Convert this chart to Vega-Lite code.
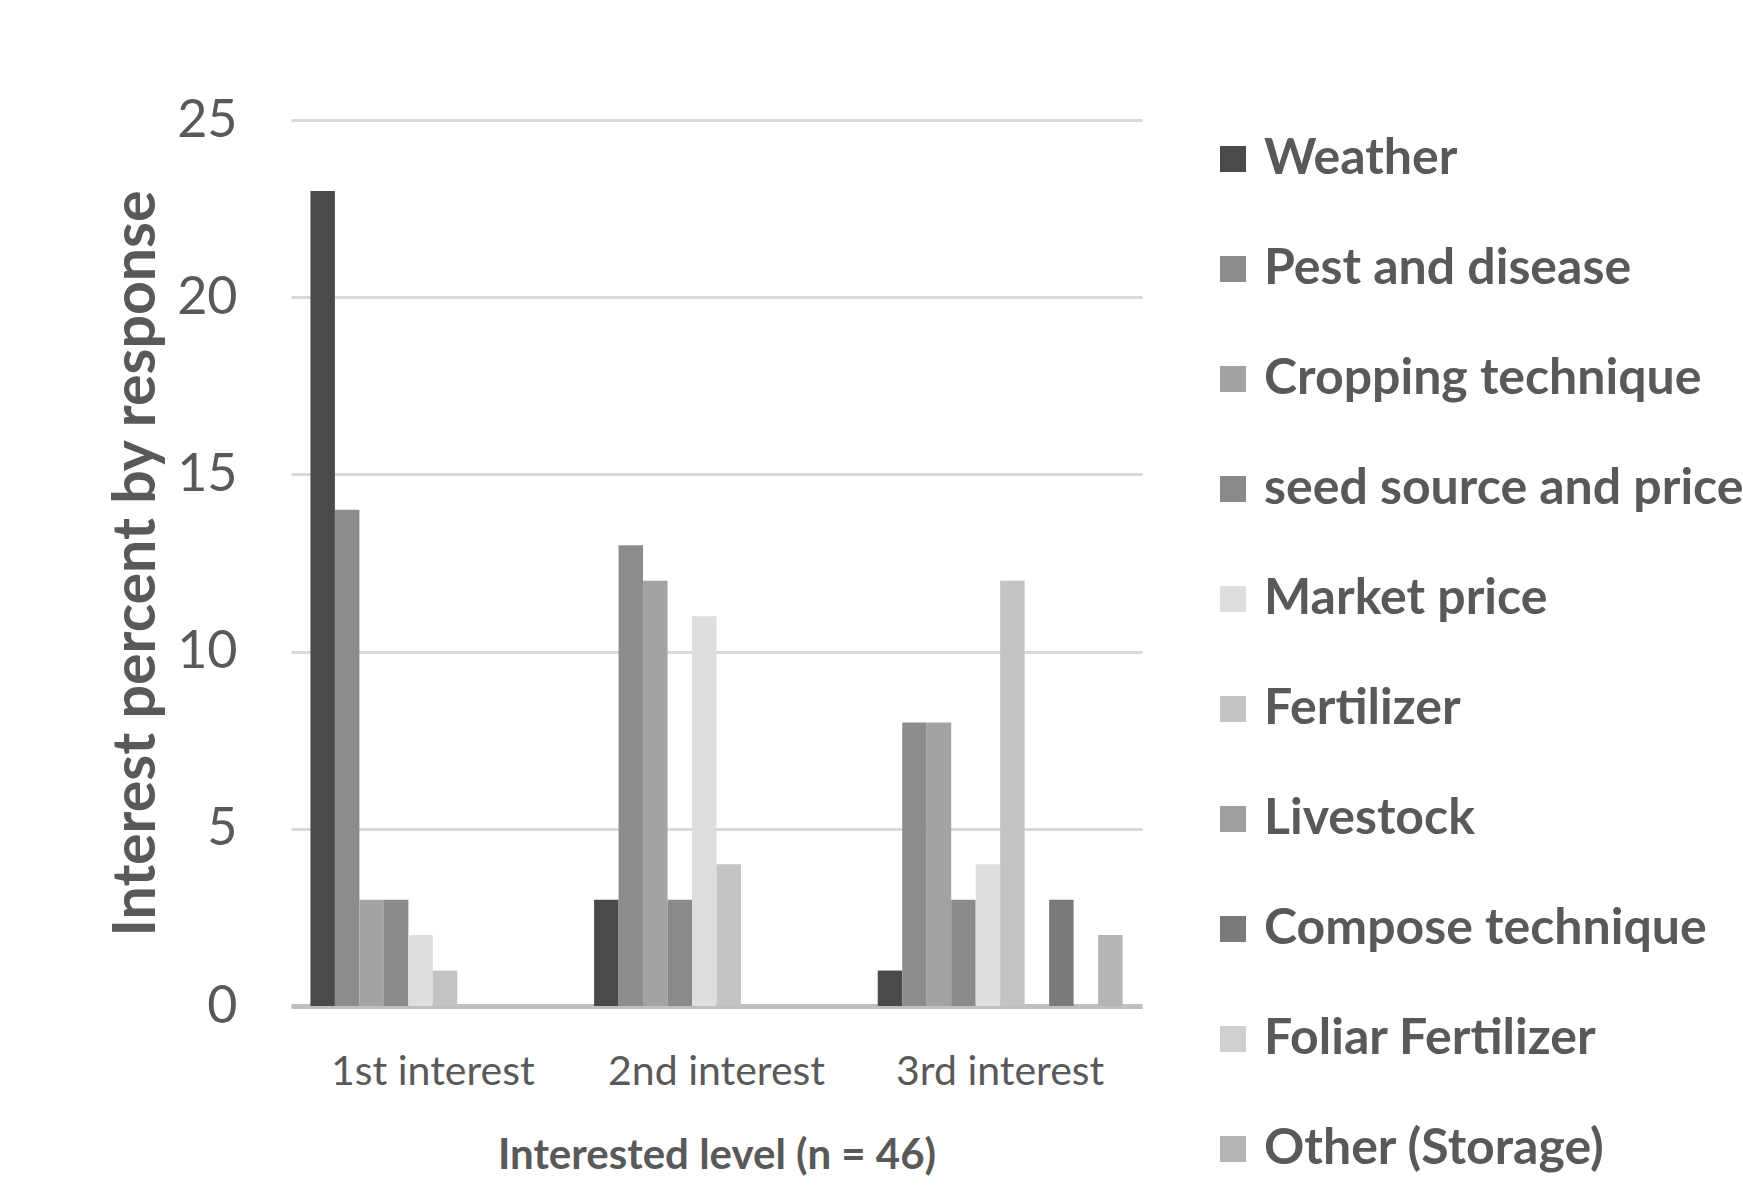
{
  "$schema": "https://vega.github.io/schema/vega-lite/v6.json",
  "width": 851,
  "height": 886,
  "autosize": {"type": "none"},
  "padding": {"left": 291, "top": 120, "right": 601, "bottom": 192},
  "background": "white",
  "config": {
    "view": {"stroke": null},
    "font": "Lato"
  },
  "data": {
    "values": [
      {"level": "1st interest", "topic": "Weather", "value": 23},
      {"level": "1st interest", "topic": "Pest and disease", "value": 14},
      {"level": "1st interest", "topic": "Cropping technique", "value": 3},
      {"level": "1st interest", "topic": "seed source and price", "value": 3},
      {"level": "1st interest", "topic": "Market price", "value": 2},
      {"level": "1st interest", "topic": "Fertilizer", "value": 1},
      {"level": "1st interest", "topic": "Livestock", "value": 0},
      {"level": "1st interest", "topic": "Compose technique", "value": 0},
      {"level": "1st interest", "topic": "Foliar Fertilizer", "value": 0},
      {"level": "1st interest", "topic": "Other (Storage)", "value": 0},
      {"level": "2nd interest", "topic": "Weather", "value": 3},
      {"level": "2nd interest", "topic": "Pest and disease", "value": 13},
      {"level": "2nd interest", "topic": "Cropping technique", "value": 12},
      {"level": "2nd interest", "topic": "seed source and price", "value": 3},
      {"level": "2nd interest", "topic": "Market price", "value": 11},
      {"level": "2nd interest", "topic": "Fertilizer", "value": 4},
      {"level": "2nd interest", "topic": "Livestock", "value": 0},
      {"level": "2nd interest", "topic": "Compose technique", "value": 0},
      {"level": "2nd interest", "topic": "Foliar Fertilizer", "value": 0},
      {"level": "2nd interest", "topic": "Other (Storage)", "value": 0},
      {"level": "3rd interest", "topic": "Weather", "value": 1},
      {"level": "3rd interest", "topic": "Pest and disease", "value": 8},
      {"level": "3rd interest", "topic": "Cropping technique", "value": 8},
      {"level": "3rd interest", "topic": "seed source and price", "value": 3},
      {"level": "3rd interest", "topic": "Market price", "value": 4},
      {"level": "3rd interest", "topic": "Fertilizer", "value": 12},
      {"level": "3rd interest", "topic": "Livestock", "value": 0},
      {"level": "3rd interest", "topic": "Compose technique", "value": 3},
      {"level": "3rd interest", "topic": "Foliar Fertilizer", "value": 0},
      {"level": "3rd interest", "topic": "Other (Storage)", "value": 2}
    ]
  },
  "mark": {"type": "bar"},
  "encoding": {
    "x": {
      "field": "level",
      "type": "nominal",
      "sort": ["1st interest", "2nd interest", "3rd interest"],
      "scale": {"paddingInner": 0.137, "paddingOuter": 0.0685},
      "title": "Interested level (n = 46)",
      "axis": {
        "labelAngle": 0,
        "ticks": false,
        "domainColor": "#bfbfbf",
        "domainWidth": 5,
        "labelFontSize": 41,
        "labelLimit": 400,
        "labelColor": "#595959",
        "labelPadding": 46,
        "titleFontSize": 42,
        "titleFontWeight": "bold",
        "titleColor": "#595959",
        "titlePadding": 43
      }
    },
    "xOffset": {
      "field": "topic",
      "type": "nominal",
      "scale": {
        "domain": ["Weather", "Pest and disease", "Cropping technique", "seed source and price", "Market price", "Fertilizer", "Livestock", "Compose technique", "Foliar Fertilizer", "Other (Storage)"],
        "paddingInner": 0,
        "paddingOuter": 0
      }
    },
    "y": {
      "field": "value",
      "type": "quantitative",
      "scale": {"domain": [0, 25]},
      "title": "Interest percent by response",
      "axis": {
        "values": [0, 5, 10, 15, 20, 25],
        "domain": false,
        "ticks": false,
        "gridColor": "#d9d9d9",
        "gridWidth": 3,
        "labelFontSize": 52,
        "labelColor": "#595959",
        "labelPadding": 54,
        "titleFontSize": 59,
        "titleFontWeight": "bold",
        "titleColor": "#595959",
        "titlePadding": 10
      }
    },
    "color": {
      "field": "topic",
      "type": "nominal",
      "scale": {
        "domain": ["Weather", "Pest and disease", "Cropping technique", "seed source and price", "Market price", "Fertilizer", "Livestock", "Compose technique", "Foliar Fertilizer", "Other (Storage)"],
        "range": ["#4a4a4a", "#8c8c8c", "#a3a3a3", "#8a8a8a", "#dedede", "#c4c4c4", "#a0a0a0", "#7a7a7a", "#d0d0d0", "#b5b5b5"]
      },
      "legend": {
        "title": null,
        "orient": "right",
        "offset": 52,
        "padding": 14,
        "symbolType": "square",
        "symbolSize": 676,
        "symbolStrokeWidth": 0,
        "labelFontSize": 50,
        "labelFontWeight": "bold",
        "labelColor": "#595959",
        "labelOffset": 6,
        "labelLimit": 700,
        "rowPadding": 60
      }
    }
  }
}
